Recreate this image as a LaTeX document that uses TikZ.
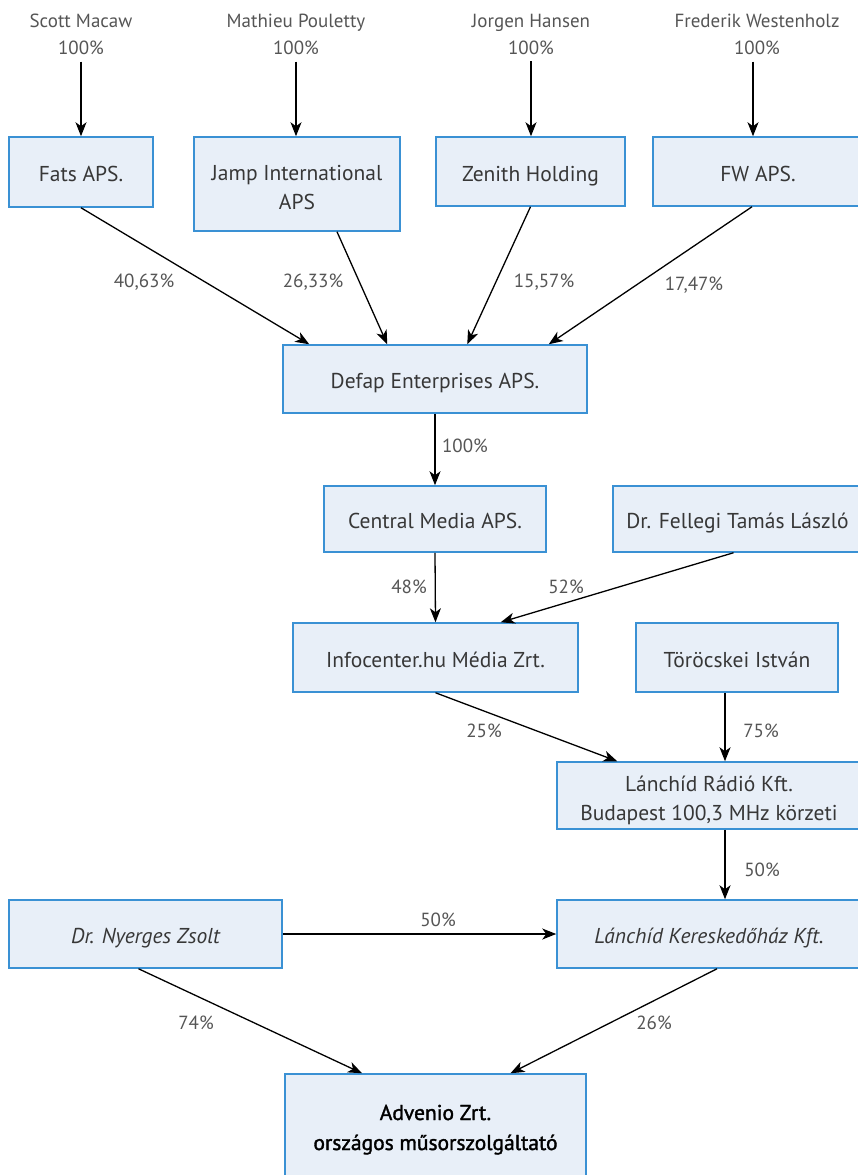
\documentclass[tikz,border=0pt]{standalone}
\usepackage{fontspec}
\setmainfont{PT Sans}
\newfontfamily\semibfont[FakeBold=1.6]{PT Sans}
\usetikzlibrary{arrows.meta}
\definecolor{boxfill}{RGB}{232,239,248}
\definecolor{boxline}{RGB}{58,145,212}
\definecolor{txt}{RGB}{55,55,55}
\definecolor{lbl}{RGB}{85,85,85}
\newcommand{\toprule}[1]{\rule{0pt}{#1}}
\newcommand{\botrule}[1]{\rule[-#1]{0pt}{#1}}
\tikzset{
  box/.style={draw=boxline, fill=boxfill, line width=1.5pt, rectangle, inner sep=0pt,
    align=center, text=txt, font=\fontsize{21.5}{29}\selectfont},
  onebox/.style={box,
    execute at begin node={\rule{0pt}{25.4pt}},
    execute at end node={\rule[-6pt]{0pt}{6pt}}},
  pct/.style={text=lbl, font=\fontsize{19}{27}\selectfont, inner sep=0pt, align=center},
  arr/.style={-{Stealth[length=14pt,width=11pt,inset=4pt]}, line width=1.3pt, black}
}
\begin{document}
\begin{tikzpicture}[x=1pt,y=-1pt]
\useasboundingbox (0,0) rectangle (858,1175);
% owners
\node[pct] (scott) at (81,34) {Scott Macaw\\100\%};
\node[pct] (mathieu) at (296,34) {Mathieu Pouletty\\100\%};
\node[pct] (jorgen) at (531,34) {Jorgen Hansen\\100\%};
\node[pct] (frederik) at (757,34) {Frederik Westenholz\\100\%};
% boxes
\node[onebox, minimum width=144pt, minimum height=70pt] (fats) at (81,172) {Fats APS.};
\node[box, minimum width=206pt, minimum height=94pt] (jamp) at (297,184) {\toprule{27pt}Jamp International\\APS\botrule{6pt}};
\node[onebox, minimum width=189pt, minimum height=69pt] (zenith) at (530.5,171.5) {Zenith Holding};
\node[onebox, minimum width=210pt, minimum height=69pt] (fw) at (758,171.5) {FW APS.};
\node[onebox, minimum width=304pt, minimum height=68pt] (defap) at (435,379) {Defap Enterprises APS.};
\node[onebox, minimum width=222pt, minimum height=66pt] (central) at (435,519) {Central Media APS.};
\node[onebox, minimum width=249pt, minimum height=66pt] (fellegi) at (737.5,519) {Dr. Fellegi Tamás László};
\node[onebox, minimum width=285pt, minimum height=69pt] (info) at (435.5,657.5) {Infocenter.hu Média Zrt.};
\node[onebox, minimum width=202pt, minimum height=69pt] (torok) at (737,657.5) {Töröcskei István};
\node[box, minimum width=304pt, minimum height=67pt] (radio) at (709,795.5) {\toprule{26pt}Lánchíd Rádió Kft.\\Budapest 100,3 MHz körzeti\botrule{6pt}};
\node[onebox, minimum width=273pt, minimum height=68pt] (nyerges) at (145.5,934) {\itshape Dr. Nyerges Zsolt};
\node[onebox, minimum width=304pt, minimum height=68pt] (keres) at (709,934) {\itshape Lánchíd Kereskedőház Kft.};
\node[box, minimum width=301pt, minimum height=106pt, text=black, font=\fontsize{21.5}{30}\selectfont] (advenio) at (435.5,1127) {\toprule{22pt}\semibfont Advenio Zrt.\\\semibfont országos műsorszolgáltató\botrule{6pt}};
% arrows
\draw[arr, shorten <=7pt] (scott) -- (fats);
\draw[arr, shorten <=7pt] (mathieu) -- (mathieu |- jamp.north);
\draw[arr, shorten <=7pt] (jorgen) -- (jorgen |- zenith.north);
\draw[arr, shorten <=7pt] ([xshift=-4pt]frederik.south) -- ([xshift=-5pt]fw.north);
\draw[arr] (fats.south) -- ([xshift=27pt]defap.north west);
\draw[arr] ([xshift=40pt]jamp.south) -- ([xshift=105pt]defap.north west);
\draw[arr] (zenith.south) -- ([xshift=185pt]defap.north west);
\draw[arr] ([xshift=-6pt]fw.south) -- ([xshift=-39pt]defap.north east);
\draw[arr] (defap.south) -- (central.north);
\draw[arr] (central.south) -- (info.north);
\draw[arr] ([xshift=-4pt]fellegi.south) -- ([xshift=-78pt]info.north east);
\draw[arr] (info.south) -- ([xshift=61pt]radio.north west);
\draw[arr] ([xshift=-12pt]torok.south) -- ([xshift=16pt]radio.north);
\draw[arr] ([xshift=16pt]radio.south) -- ([xshift=16pt]keres.north);
\draw[arr] (nyerges.east) -- (keres.west);
\draw[arr] ([xshift=-7pt]nyerges.south) -- ([xshift=-73.5pt]advenio.north);
\draw[arr] ([xshift=8pt]keres.south) -- ([xshift=75pt]advenio.north);
% percentages
\node[pct] (p1) at (144,282) {40,63\%};
\node[pct] (p2) at (313,282) {26,33\%};
\node[pct] (p3) at (544,282) {15,57\%};
\node[pct] (p4) at (694,285) {17,47\%};
\node[pct] (p5) at (465,446) {100\%};
\node[pct] (p6) at (409,587) {48\%};
\node[pct] (p7) at (566,587) {52\%};
\node[pct] (p8) at (484,731) {25\%};
\node[pct] (p9) at (761,731) {75\%};
\node[pct] (p10) at (762,870) {50\%};
\node[pct] (p11) at (438,920) {50\%};
\node[pct] (p12) at (196,1023) {74\%};
\node[pct] (p13) at (654,1023) {26\%};
\end{tikzpicture}
\end{document}
